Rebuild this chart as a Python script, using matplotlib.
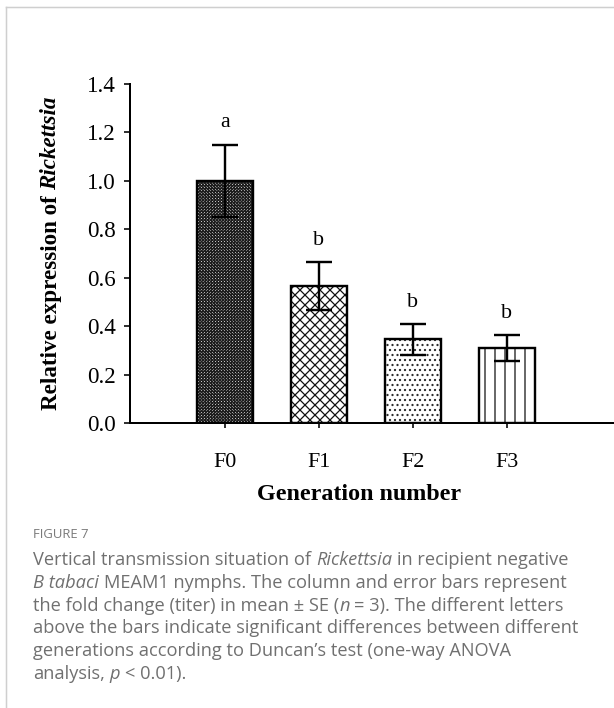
import matplotlib
matplotlib.use("Agg")
import matplotlib.pyplot as plt
from matplotlib.transforms import IdentityTransform
from matplotlib.lines import Line2D

# ---- data ----
generations = ["F0", "F1", "F2", "F3"]
rel_expression = [1.00, 0.565, 0.345, 0.31]
se = [0.15, 0.10, 0.065, 0.055]
letters = ["a", "b", "b", "b"]
yticks = [0.0, 0.2, 0.4, 0.6, 0.8, 1.0, 1.2, 1.4]

# ---- style ----
hatches = ["x" * 13, "xxxx", "....", "||"]
hatch_colors = ["#1e1e1e", "#111111", "#2a2a2a", "#111111"]

DPI = 120
W, H = 614, 708
PT = 72 / DPI  # points per pixel

SERIF = "Liberation Serif"
SANS = "Open Sans"
CAP_COLOR = "#707070"

plt.rcParams["hatch.linewidth"] = 0.75

fig = plt.figure(figsize=(W / DPI, H / DPI), dpi=DPI)
fig.patch.set_facecolor("white")

# page frame lines
fig.add_artist(Line2D([6, W], [H - 7, H - 7], transform=IdentityTransform(),
                      color="#cfcfcf", lw=1.5 * PT))
fig.add_artist(Line2D([6, 6], [0, H - 7], transform=IdentityTransform(),
                      color="#cfcfcf", lw=1.5 * PT))

ax_left, ax_top, ax_bottom = 130, 84, 423
ax = fig.add_axes([ax_left / W, (H - ax_bottom) / H,
                   (W - ax_left) / W, (ax_bottom - ax_top) / H])

xpos = list(range(len(generations)))
# hatched fills, then black outlines on top
fills = ax.bar(xpos, rel_expression, width=0.6, color="white",
               linewidth=0, zorder=2)
for b, h, c in zip(fills, hatches, hatch_colors):
    b.set_hatch(h)
    b.set_edgecolor(c)
ax.bar(xpos, rel_expression, width=0.6, fill=False,
       edgecolor="black", linewidth=2.4 * PT, zorder=2.5)

ax.errorbar(xpos, rel_expression, yerr=se, fmt="none", ecolor="black",
            elinewidth=2.4 * PT, capsize=13 * PT, capthick=2.4 * PT, zorder=3)

for i, (v, e, s) in enumerate(zip(rel_expression, se, letters)):
    ax.text(i, v + e + 0.05, s, ha="center", va="bottom",
            family=SERIF, fontsize=22 * PT, color="black")

ax.set_xlim(-1.01, 4.14)
ax.set_ylim(0, 1.4)
ax.set_yticks(yticks)
ax.set_yticklabels([f"{t:.1f}" for t in yticks])
ax.set_xticks(xpos)
ax.set_xticklabels(generations)

for side in ("top", "right"):
    ax.spines[side].set_visible(False)
for side in ("left", "bottom"):
    ax.spines[side].set_linewidth(2.0 * PT)

ax.tick_params(axis="y", direction="out", length=6 * PT, width=1.6 * PT,
               pad=8 * PT, labelsize=23 * PT)
ax.tick_params(axis="x", direction="out", length=5 * PT, width=1.6 * PT,
               pad=25 * PT, labelsize=22 * PT)
for lab in ax.get_xticklabels() + ax.get_yticklabels():
    lab.set_family(SERIF)

# x axis title
fig.text(359, H - 494, "Generation number", transform=IdentityTransform(),
         ha="center", va="center", family=SERIF, fontweight="bold",
         fontsize=24 * PT)

renderer = fig.canvas.get_renderer()


def run_width(s, **kw):
    t = fig.text(0, 0, s, transform=IdentityTransform(), **kw)
    w = t.get_window_extent(renderer).width
    t.remove()
    return w


def space_width(**kw):
    return run_width("x x", **kw) - run_width("xx", **kw)


def draw_runs(x0, y0, runs, vertical=False, **common):
    """Draw consecutive text runs with their own styles along one line."""
    sp = space_width(**common)
    pos = x0 if not vertical else y0
    for s, style in runs:
        kw = dict(common)
        kw.update(style)
        if s == " ":
            pos += sp
            continue
        w = run_width(s, **kw)
        if vertical:
            fig.text(x0, pos, s, transform=IdentityTransform(),
                     rotation=90, ha="left", va="center",
                     rotation_mode="anchor", **kw)
        else:
            fig.text(pos, y0, s, transform=IdentityTransform(),
                     ha="left", va="baseline", **kw)
        pos += w


# y axis title with italic genus name
ylab_runs = [("Relative expression of", {}), (" ", {}),
             ("Rickettsia", {"style": "italic"})]
ylab_kw = dict(family=SERIF, fontweight="bold", fontsize=23 * PT,
               color="black")
total = sum(run_width(s, **dict(ylab_kw, **st))
            for s, st in ylab_runs if s != " ") + space_width(**ylab_kw)
ymid = H - (ax_top + ax_bottom) / 2
draw_runs(51, ymid - total / 2, ylab_runs, vertical=True, **ylab_kw)

# caption
it = {"style": "italic"}
caption = [
    [("Vertical transmission situation of", {}), (" ", {}), ("Rickettsia", it),
     (" ", {}), ("in recipient negative", {})],
    [("B tabaci", it), (" ", {}),
     ("MEAM1 nymphs. The column and error bars represent", {})],
    [("the fold change (titer) in mean \u00b1 SE (", {}), ("n", it),
     (" ", {}), ("= 3). The different letters", {})],
    [("above the bars indicate significant differences between different", {})],
    [("generations according to Duncan\u2019s test (one-way ANOVA", {})],
    [("analysis,", {}), (" ", {}), ("p", it), (" ", {}), ("< 0.01).", {})],
]
ref_w = run_width(caption[3][0][0], family=SANS, fontsize=10)
cap_size = 10 * 542 / ref_w
cap_kw = dict(family=SANS, fontsize=cap_size, color=CAP_COLOR)

fig.text(33, H - 538, "FIGURE 7", transform=IdentityTransform(),
         ha="left", va="baseline", family=SANS, fontsize=cap_size * 0.72,
         color="#7a7a7a")
for k, line in enumerate(caption):
    draw_runs(33, H - (565 + 22.8 * k), line, **cap_kw)

fig.savefig("out.png", dpi=DPI, facecolor="white")
